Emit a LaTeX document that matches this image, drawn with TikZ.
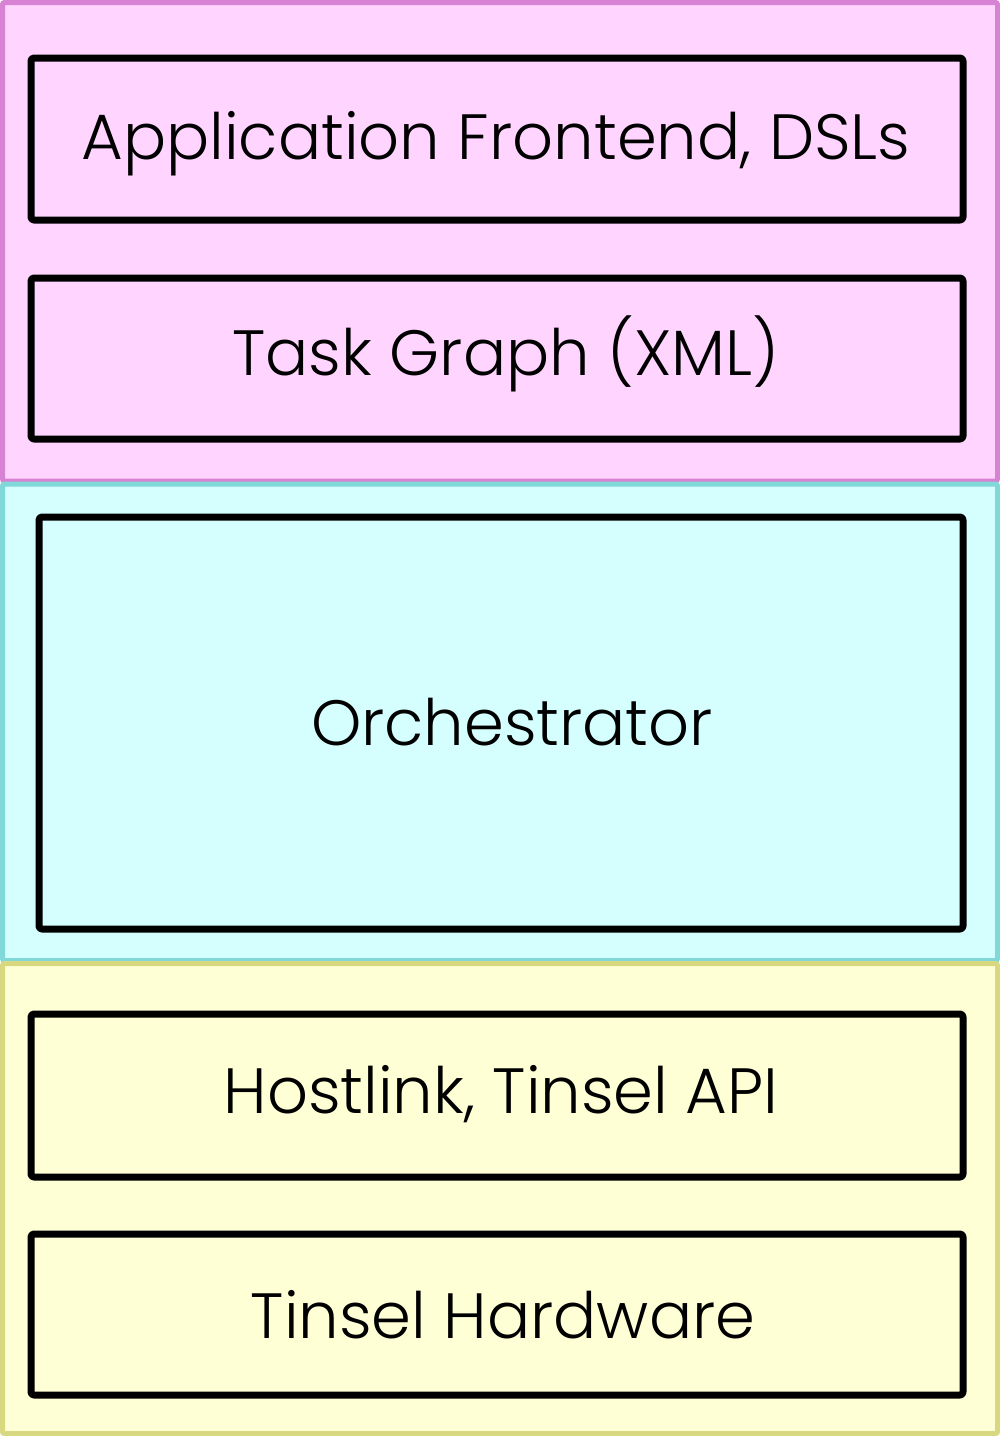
\documentclass[tikz,border=0pt]{standalone}
\usepackage{fontspec}
\setmainfont{Poppins}[UprightFont={* Light}]
\definecolor{pinkfill}{HTML}{FFD5FF}
\definecolor{pinkline}{HTML}{D882D4}
\definecolor{cyanfill}{HTML}{D5FFFF}
\definecolor{cyanline}{HTML}{80D8D8}
\definecolor{yelfill}{HTML}{FFFFD5}
\definecolor{yelline}{HTML}{D8D880}
\tikzset{
  layer/.style={draw, line width=5pt, rounded corners=2pt},
  boxnode/.style={draw=black, line width=7pt, rounded corners=3pt, rectangle,
    anchor=north west, inner sep=0pt, outer sep=0pt, line join=round},
  lbl/.style={anchor=base, inner sep=0pt, font=\fontsize{64}{70}\selectfont}
}
\begin{document}
\begin{tikzpicture}[x=1pt,y=-1pt]
\useasboundingbox (0,0) rectangle (1000,1436);
% layers
\path[layer, draw=pinkline, fill=pinkfill] (2.5,2.5) rectangle (997.5,481);
\path[layer, draw=cyanline, fill=cyanfill] (2.5,484) rectangle (997.5,960.5);
\path[layer, draw=yelline, fill=yelfill] (2.5,963.5) rectangle (997.5,1433.5);
% boxes
\node[boxnode, fill=pinkfill, minimum width=932pt, minimum height=162pt] (app) at (31,58) {};
\node[boxnode, fill=pinkfill, minimum width=932pt, minimum height=161pt] (tg) at (31,278) {};
\node[boxnode, fill=cyanfill, minimum width=924pt, minimum height=412pt] (orch) at (39,517) {};
\node[boxnode, fill=yelfill, minimum width=932pt, minimum height=163pt] (host) at (31,1014) {};
\node[boxnode, fill=yelfill, minimum width=932pt, minimum height=161pt] (hw) at (31,1234) {};
% labels
\node[lbl] (appt) at (496,159) {Application Frontend, DSLs};
\node[lbl] (tgt) at (506,375) {Task Graph (XML)};
\node[lbl] (orcht) at (512,745) {Orchestrator};
\node[lbl] (hostt) at (501,1113) {Hostlink, Tinsel API};
\node[lbl] (hwt) at (503,1338) {Tinsel Hardware};
\end{tikzpicture}
\end{document}
